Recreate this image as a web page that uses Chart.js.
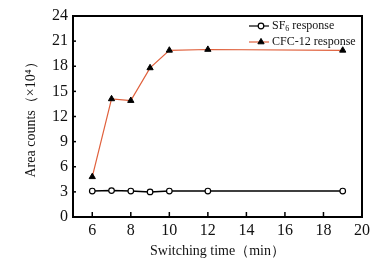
<!DOCTYPE html>
<html>
<head>
<meta charset="utf-8">
<script src="https://cdn.jsdelivr.net/npm/chart.js@4"></script>
<style>
  html, body { margin: 0; padding: 0; background: #fff; }
  #wrap { width: 386px; height: 265px; }
</style>
</head>
<body>
<div id="wrap"><canvas id="responseChart" width="386" height="265"></canvas></div>
<script>
// values
const switchTimes = [6, 7, 8, 9, 10, 12, 19];
const sf6Response = [3.1, 3.15, 3.1, 3.0, 3.1, 3.1, 3.1];
const cfc12Response = [4.8, 14.1, 13.9, 17.8, 19.9, 20.0, 19.9];
const xTicks = [6, 8, 10, 12, 14, 16, 18, 20];
const yTicks = [0, 3, 6, 9, 12, 15, 18, 21, 24];

const serif = "'Liberation Serif', 'DejaVu Serif', serif";
const cfcColor = "#e0603c";

function toPoints(ys) {
  return switchTimes.map((t, i) => ({ x: t, y: ys[i] }));
}

// frame + inward tick marks + legend inside the plot
const framePlugin = {
  id: "frame",
  afterDraw(chart) {
    const ctx = chart.ctx;
    const area = chart.chartArea;
    const xs = chart.scales.x;
    const ys = chart.scales.y;
    ctx.save();
    ctx.strokeStyle = "#000";
    ctx.lineWidth = 1.5;
    xTicks.forEach((v) => {
      const px = xs.getPixelForValue(v);
      ctx.beginPath();
      ctx.moveTo(px, area.bottom);
      ctx.lineTo(px, area.bottom - 5);
      ctx.stroke();
    });
    yTicks.forEach((v) => {
      const py = ys.getPixelForValue(v);
      ctx.beginPath();
      ctx.moveTo(area.left, py);
      ctx.lineTo(area.left + 3, py);
      ctx.stroke();
    });
    ctx.lineWidth = 2;
    ctx.strokeRect(area.left, area.top, area.right - area.left, area.bottom - area.top);

    // legend
    const lx = area.left + 176;
    const rows = [
      { y: area.top + 10, ds: chart.data.datasets[0], sub: true },
      { y: area.top + 26, ds: chart.data.datasets[1], sub: false },
    ];
    rows.forEach((r) => {
      ctx.strokeStyle = r.ds.borderColor;
      ctx.lineWidth = 1.2;
      ctx.beginPath();
      ctx.moveTo(lx, r.y);
      ctx.lineTo(lx + 20, r.y);
      ctx.stroke();
      ctx.fillStyle = r.ds.pointBackgroundColor;
      ctx.strokeStyle = r.ds.pointBorderColor;
      ctx.lineWidth = r.ds.pointBorderWidth;
      Chart.helpers.drawPoint(ctx, {
        pointStyle: r.ds.pointStyle,
        radius: r.ds.pointRadius,
        borderWidth: r.ds.pointBorderWidth,
      }, lx + 12, r.y);
      ctx.fillStyle = "#111";
      ctx.textBaseline = "middle";
      ctx.font = "12px " + serif;
      let tx = lx + 23;
      if (r.sub) {
        ctx.fillText("SF", tx, r.y);
        tx += ctx.measureText("SF").width;
        ctx.font = "8px " + serif;
        ctx.fillText("6", tx, r.y + 3);
        tx += ctx.measureText("6").width;
        ctx.font = "12px " + serif;
        ctx.fillText(" response", tx, r.y);
      } else {
        ctx.fillText(r.ds.label, tx, r.y);
      }
    });
    ctx.restore();
  },
};

new Chart(document.getElementById("responseChart"), {
  type: "line",
  data: {
    datasets: [
      {
        label: "SF6 response",
        data: toPoints(sf6Response),
        borderColor: "#000",
        borderWidth: 1.5,
        pointStyle: "circle",
        pointRadius: 2.8,
        pointBorderWidth: 1.2,
        pointBackgroundColor: "#fff",
        pointBorderColor: "#000",
        tension: 0,
      },
      {
        label: "CFC-12 response",
        data: toPoints(cfc12Response),
        borderColor: cfcColor,
        borderWidth: 1.2,
        pointStyle: "triangle",
        pointRadius: 3.6,
        pointBorderWidth: 1,
        pointBackgroundColor: "#000",
        pointBorderColor: "#000",
        tension: 0,
      },
    ],
  },
  options: {
    responsive: false,
    animation: false,
    devicePixelRatio: 1,
    layout: { padding: { top: 16, right: 24, left: 0, bottom: 0 } },
    plugins: {
      legend: { display: false },
      tooltip: { enabled: false },
    },
    scales: {
      x: {
        type: "linear",
        min: 5,
        max: 20,
        afterBuildTicks: (scale) => {
          scale.ticks = xTicks.map((v) => ({ value: v }));
        },
        afterFit: (scale) => {
          scale.height = 48;
        },
        grid: { display: false, drawTicks: false },
        border: { display: false },
        ticks: { color: "#111", padding: 4, font: { family: serif, size: 16 } },
        title: {
          display: true,
          text: "Switching time（min）",
          color: "#111",
          padding: { bottom: 5, top: 0 },
          font: { family: serif, size: 14 },
        },
      },
      y: {
        min: 0,
        max: 24,
        afterBuildTicks: (scale) => {
          scale.ticks = yTicks.map((v) => ({ value: v }));
        },
        afterFit: (scale) => {
          scale.width = 73;
        },
        grid: { display: false, drawTicks: false },
        border: { display: false },
        ticks: { color: "#111", padding: 5, font: { family: serif, size: 16 } },
        title: {
          display: true,
          text: "Area counts（×10⁴）",
          color: "#111",
          padding: { top: 23, bottom: 0 },
          font: { family: serif, size: 14 },
        },
      },
    },
  },
  plugins: [framePlugin],
});
</script>
</body>
</html>
